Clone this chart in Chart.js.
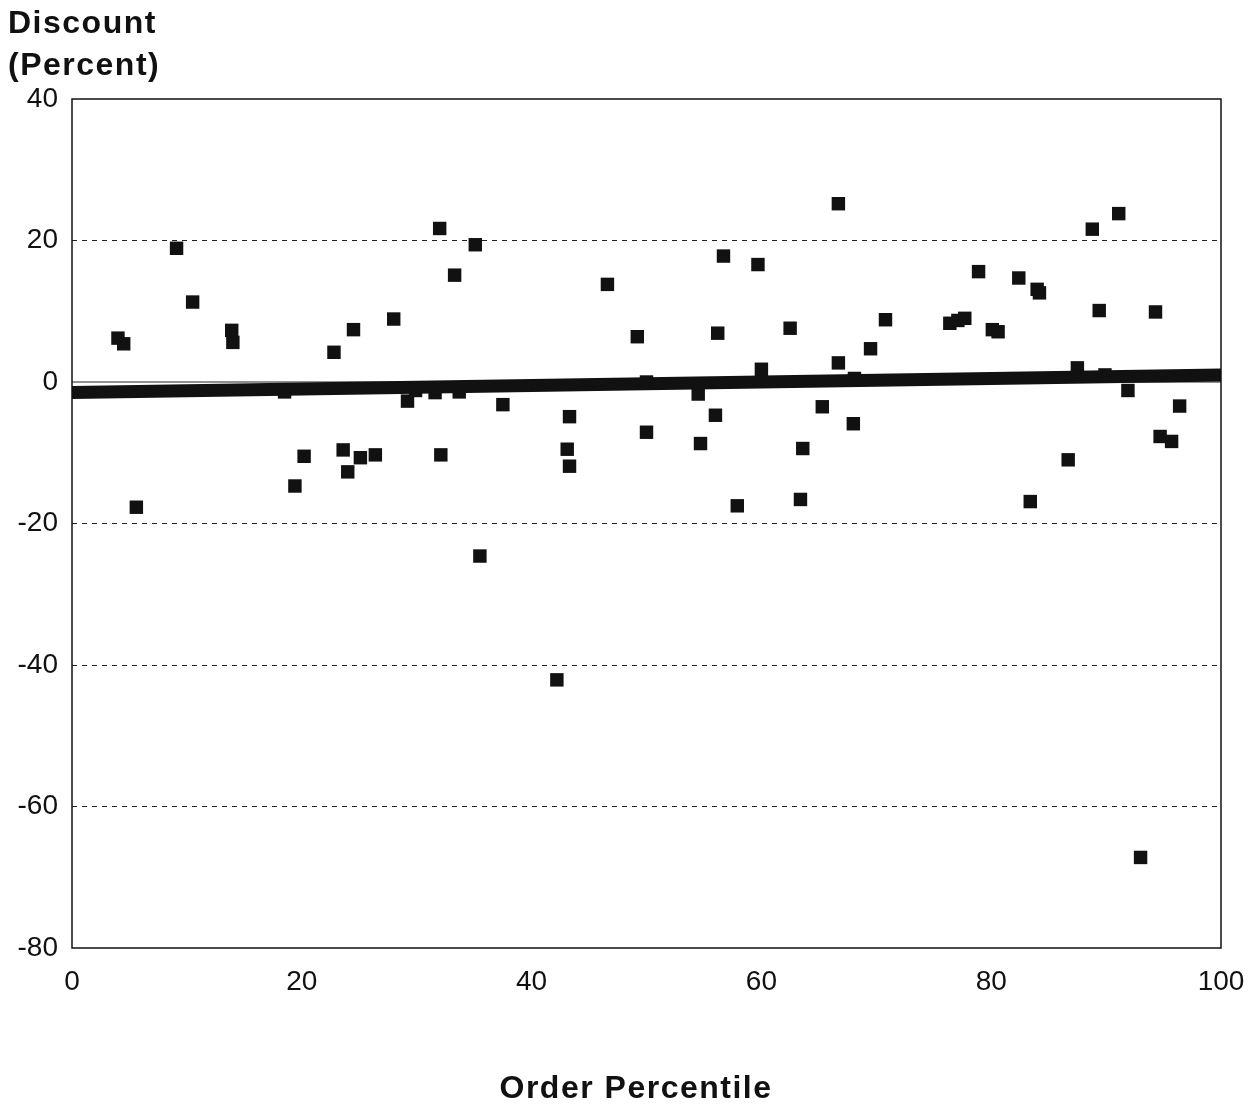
<!DOCTYPE html>
<html>
<head>
<meta charset="utf-8">
<script src="https://cdn.jsdelivr.net/npm/chart.js@4.4.1/dist/chart.umd.min.js"></script>
<style>
  html, body { margin: 0; padding: 0; background: #ffffff; }
  #wrap { width: 1256px; height: 1107px; }
</style>
</head>
<body>
<div id="wrap"><canvas id="c" width="1256" height="1107"></canvas></div>
<script>
// ---- data ----
const orderPercentile = [4.0, 4.5, 5.6, 9.1, 10.5, 13.9, 14.0, 18.5, 19.4, 20.2,
  22.8, 23.6, 24.0, 24.5, 25.1, 26.4, 28.0, 29.2, 29.9, 31.6,
  32.0, 32.1, 33.3, 33.7, 35.1, 35.5, 37.5, 42.2, 43.1, 43.3,
  43.3, 46.6, 49.2, 50.0, 50.0, 54.5, 54.7, 56.0, 56.2, 56.7,
  57.9, 59.7, 60.0, 62.5, 63.4, 63.6, 65.3, 66.7, 66.7, 68.0,
  68.1, 69.5, 70.8, 76.4, 77.1, 77.7, 78.9, 80.1, 80.6, 82.4,
  83.4, 84.0, 84.2, 86.7, 87.5, 88.8, 89.4, 89.9, 91.1, 91.9,
  93.0, 94.3, 94.7, 95.7, 96.4];
const discountPct = [6.2, 5.4, -17.7, 18.9, 11.3, 7.3, 5.6, -1.4, -14.7, -10.5,
  4.2, -9.6, -12.7, 7.4, -10.7, -10.3, 8.9, -2.7, -1.2, -1.5,
  21.7, -10.3, 15.1, -1.4, 19.4, -24.6, -3.2, -42.1, -9.5, -4.9,
  -11.9, 13.8, 6.4, 0.0, -7.1, -1.7, -8.7, -4.7, 6.9, 17.8,
  -17.5, 16.6, 1.8, 7.6, -16.6, -9.4, -3.5, 25.2, 2.7, -5.9,
  0.5, 4.7, 8.8, 8.3, 8.7, 9.0, 15.6, 7.4, 7.1, 14.7,
  -16.9, 13.1, 12.6, -11.0, 2.0, 21.6, 10.1, 1.0, 23.8, -1.2,
  -67.2, 9.9, -7.7, -8.4, -3.4];
const trendX = [0, 100];
const trendY = [-1.5, 1.0];
const xTicks = [0, 20, 40, 60, 80, 100];
const yTicks = [40, 20, 0, -20, -40, -60, -80];
const yTitleLines = ['Discount', '(Percent)'];
const xTitle = 'Order Percentile';

const FONT = "'Liberation Sans', Arial, Helvetica, sans-serif";

const points = orderPercentile.map((x, i) => ({ x: x, y: discountPct[i] }));
const trend = trendX.map((x, i) => ({ x: x, y: trendY[i] }));

const framePlugin = {
  id: 'frame',
  beforeDatasetsDraw(chart) {
    const { ctx, chartArea: a, scales } = chart;
    ctx.save();
    const y0 = scales.y.getPixelForValue(0);
    ctx.strokeStyle = '#222';
    ctx.lineWidth = 1.2;
    ctx.beginPath();
    ctx.moveTo(a.left, y0);
    ctx.lineTo(a.right, y0);
    ctx.stroke();
    ctx.restore();
  },
  afterDraw(chart) {
    const { ctx, chartArea: a } = chart;
    ctx.save();
    ctx.strokeStyle = '#111';
    ctx.lineWidth = 1.5;
    ctx.strokeRect(a.left, a.top, a.right - a.left, a.bottom - a.top);
    ctx.fillStyle = '#111';
    ctx.font = 'bold 32px ' + FONT;
    if ('letterSpacing' in ctx) ctx.letterSpacing = '1.5px';
    ctx.textAlign = 'left';
    ctx.textBaseline = 'alphabetic';
    ctx.fillText(yTitleLines[0], 8, 33);
    ctx.fillText(yTitleLines[1], 8, 75);
    ctx.textAlign = 'center';
    ctx.fillText(xTitle, 636, 1098);
    ctx.restore();
  }
};

new Chart(document.getElementById('c'), {
  type: 'scatter',
  data: {
    datasets: [
      {
        type: 'line',
        data: trend,
        borderColor: '#111',
        borderWidth: 13,
        borderCapStyle: 'round',
        pointRadius: 0,
        fill: false,
        order: 2
      },
      {
        data: points,
        pointStyle: 'rect',
        pointRadius: 9.5,
        pointHoverRadius: 9.5,
        backgroundColor: '#111',
        borderColor: '#111',
        borderWidth: 0,
        order: 1
      }
    ]
  },
  plugins: [framePlugin],
  options: {
    responsive: false,
    animation: false,
    events: [],
    layout: { padding: { top: 99, right: 35, bottom: 0, left: 0 } },
    plugins: { legend: { display: false }, tooltip: { enabled: false }, title: { display: false } },
    scales: {
      x: {
        type: 'linear',
        min: 0, max: 100,
        afterBuildTicks(scale) { scale.ticks = xTicks.map(v => ({ value: v })); },
        afterFit(scale) { scale.height = 159; scale.paddingRight = 0; scale.paddingLeft = 0; },
        grid: { display: false, drawTicks: false },
        border: { display: false },
        ticks: { color: '#111', font: { family: FONT, size: 28 }, padding: 17, maxRotation: 0 }
      },
      y: {
        type: 'linear',
        min: -80, max: 40,
        afterBuildTicks(scale) { scale.ticks = yTicks.map(v => ({ value: v })); },
        afterFit(scale) { scale.width = 72; scale.paddingTop = 0; scale.paddingBottom = 0; },
        grid: {
          drawTicks: false,
          lineWidth: 1,
          color: (c) => {
            const v = c.tick && c.tick.value;
            return (v === 20 || v === -20 || v === -40 || v === -60) ? '#222' : 'rgba(0,0,0,0)';
          }
        },
        border: { display: false, dash: [5, 5] },
        ticks: { color: '#111', font: { family: FONT, size: 28 }, padding: 14 }
      }
    }
  }
});
</script>
</body>
</html>
